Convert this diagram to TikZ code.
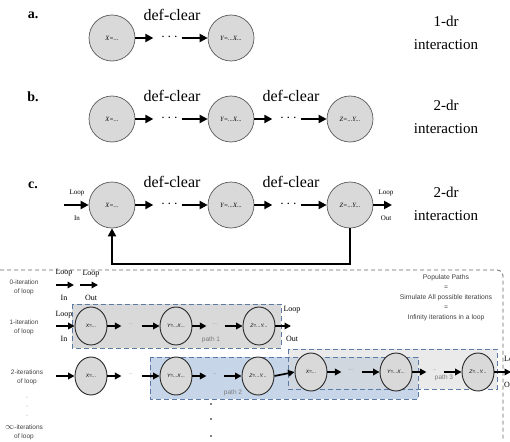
\documentclass[tikz,border=0pt]{standalone}
\usepackage{fontspec}
\setmainfont{Liberation Serif}
\setsansfont{Liberation Sans}
\usetikzlibrary{arrows.meta,calc,shapes.geometric}
\definecolor{cfill}{HTML}{D9D9D9}
\definecolor{cedge}{HTML}{5A5A5A}
\definecolor{pblue}{HTML}{C6D5E8}
\definecolor{pedge}{HTML}{5B7BA6}
\definecolor{tgray}{HTML}{404040}
\definecolor{lgray}{HTML}{7A7A7A}
\newcommand\biglink[2]{%
  \draw[arr] (#1.east) -- ($(#1.east)+(18,0)$);
  \node[font=\bfseries\fontsize{14}{14}\selectfont,inner sep=0pt] at ($(#1.east)!0.5!(#2.west)+(-2,-1)$) {$\cdots$};
  \draw[arr] ($(#2.west)+(-26,0)$) -- (#2.west);}
\newcommand\smlink[2]{%
  \draw[sarr] (#1.east) -- ($(#1.east)+(14,0)$);
  \node[font=\fontsize{5}{5}\selectfont, text=lgray,inner sep=0pt] at ($(#1.east)!0.45!(#2.west)+(0,-2)$) {...};
  \draw[sarr] ($(#2.west)+(-18,0)$) -- (#2.west);}
\begin{document}
\begin{tikzpicture}[x=1pt,y=-1pt,
  bigc/.style={circle,draw=cedge,fill=cfill,line width=0.7pt,minimum size=46pt,inner sep=0pt,font=\fontsize{6.5}{7}\selectfont\itshape},
  smc/.style={ellipse,draw=black!85,fill=cfill,line width=0.9pt,minimum width=32pt,minimum height=38pt,inner sep=0pt,font=\sffamily\itshape\fontsize{5}{6}\selectfont},
  arr/.style={line width=2.2pt,-{Triangle[length=8pt,width=8pt]}},
  sarr/.style={line width=1.7pt,-{Triangle[length=6.5pt,width=6.5pt]}},
  dc/.style={font=\fontsize{16}{18}\selectfont},
  lab/.style={font=\bfseries\fontsize{14}{16}\selectfont},
  inter/.style={font=\fontsize{15}{23}\selectfont,align=center},
  lp/.style={font=\fontsize{7}{8}\selectfont},
  blp/.style={font=\fontsize{8}{9}\selectfont},
  itl/.style={font=\sffamily\fontsize{6.5}{9}\selectfont,text=tgray,align=center},
  ptxt/.style={font=\sffamily\fontsize{6.5}{8}\selectfont,text=lgray},
  pbox/.style={draw=pedge,line width=0.9pt,dash pattern=on 5pt off 3pt}]
\useasboundingbox (0,0) rectangle (510,441);
% ---------- a ----------
\node[lab] (la) at (33,15) {a.};
\node[bigc] (a1) at (112,38) {X=...};
\node[bigc] (a2) at (231,38) {Y=...X...};
\biglink{a1}{a2}
\node[dc] (da) at (172,15) {def-clear};
\node[inter] (ia) at (446,33) {1-dr\\interaction};
% ---------- b ----------
\node[lab] (lb) at (33,97) {b.};
\node[bigc] (b1) at (112,119) {X=...};
\node[bigc] (b2) at (231,119) {Y=...X...};
\node[bigc] (b3) at (350,119) {Z=...Y...};
\biglink{b1}{b2}
\biglink{b2}{b3}
\node[dc] (db1) at (172,96) {def-clear};
\node[dc] (db2) at (291,96) {def-clear};
\node[inter] (ib) at (446,117) {2-dr\\interaction};
% ---------- c ----------
\node[lab] (lc) at (33,185) {c.};
\node[bigc] (c1) at (112,205) {X=...};
\node[bigc] (c2) at (231,205) {Y=...X...};
\node[bigc] (c3) at (350,205) {Z=...Y...};
\biglink{c1}{c2}
\biglink{c2}{c3}
\node[dc] (dc1) at (172,182) {def-clear};
\node[dc] (dc2) at (291,182) {def-clear};
\coordinate (cin) at (64,205);
\coordinate (cout) at (392,205);
\draw[arr] (cin) -- (c1.west);
\draw[arr] (c3.east) -- (cout);
\node[lp] (cl1) at (77,193) {Loop};
\node[lp] (ci1) at (77,218) {In};
\node[lp] (cl2) at (386,193) {Loop};
\node[lp] (co2) at (386,218) {Out};
\node[inter] (ic) at (446,204) {2-dr\\interaction};
\coordinate (fb) at (0,264);
\draw[arr] (c3.south) -- (c3.south |- fb) -| (c1.south);
% ---------- dashed frame ----------
\draw[draw=black!60,line width=0.8pt,dash pattern=on 4pt off 3pt,rounded corners=6pt] (0,270) -- (503,270) -- (503,441);
% ---------- left labels ----------
\node[itl] (t0) at (24,287) {0-iteration\\of loop};
\node[itl] (t1) at (24,327) {1-iteration\\of loop};
\node[itl] (t2) at (27,377) {2-iterations\\of loop};
\node[itl] (t3) at (24,432) {{\fontsize{9}{9}\selectfont$\infty$}-iterations\\of loop};
\foreach \yy in {397,406,415} \fill[black!50] (27,\yy) circle (0.5pt);
% ---------- row 0 ----------
\coordinate (z0a) at (56,285); \coordinate (z0b) at (74,285);
\coordinate (z0c) at (80,285); \coordinate (z0d) at (98,285);
\draw[sarr] (z0a) -- (z0b);
\draw[sarr] (z0c) -- (z0d);
\node[blp] at (64,273) {Loop};
\node[blp] at (64,298) {In};
\node[blp] at (91,274) {Loop};
\node[blp] at (91,298) {Out};
% ---------- boxes ----------
\fill[cfill] (72,304) rectangle (281,348);
\draw[pbox] (72,304) rectangle (281,348);
\fill[pblue] (150,357) rectangle (418,399);
\fill[cfill,opacity=0.55] (288,349) rectangle (497,389);
\draw[pbox] (150,357) rectangle (418,399);
\draw[pbox] (288,349) rectangle (497,389);
\node[ptxt] (p1) at (211,340) {path 1};
\node[ptxt] (p2) at (233,393) {path 2};
\node[ptxt] (p3) at (444,378) {path 3};
% ---------- row 1 ----------
\node[smc] (x1) at (91,326) {X=...};
\node[smc] (y1) at (176,326) {Y=...X...};
\node[smc] (z1) at (259,326) {Z=...Y...};
\coordinate (r1in) at (56,326);
\coordinate (r1out) at (291,326);
\draw[sarr] (r1in) -- (x1.west);
\smlink{x1}{y1}
\smlink{y1}{z1}
\draw[sarr] (z1.east) -- (r1out);
\node[blp] at (64,315) {Loop};
\node[blp] at (64,339) {In};
\node[blp] at (292,310) {Loop};
\node[blp] at (292,339) {Out};
% ---------- row 2 ----------
\node[smc] (x2) at (91,376) {X=...};
\node[smc] (y2) at (176,376) {Y=...X...};
\node[smc] (z2) at (258,376) {Z=...Y...};
\node[smc] (x3) at (311,372) {X=...};
\node[smc] (y3) at (396,372) {Y=...X...};
\node[smc] (z3) at (478,372) {Z=...Y...};
\coordinate (r2in) at (56,376);
\coordinate (r2out) at (511,372);
\draw[sarr] (r2in) -- (x2.west);
\smlink{x2}{y2}
\smlink{y2}{z2}
\draw[sarr] (z2.east) -- (x3.west);
\smlink{x3}{y3}
\smlink{y3}{z3}
\draw[sarr] (z3.east) -- (r2out);
\node[blp,anchor=west,inner sep=0pt] at (504,360) {Loop};
\node[blp,anchor=west,inner sep=0pt] at (504,385) {Out};
% vertical dots
\foreach \yy in {404,419,436} \fill[black] (211,\yy) circle (0.8pt);
% ---------- caption text ----------
\node[itl,font=\sffamily\fontsize{6.8}{10}\selectfont] (pp) at (446,298) {Populate Paths\\=\\Simulate All possible iterations\\=\\Infinity iterations in a loop};
\end{tikzpicture}
\end{document}
